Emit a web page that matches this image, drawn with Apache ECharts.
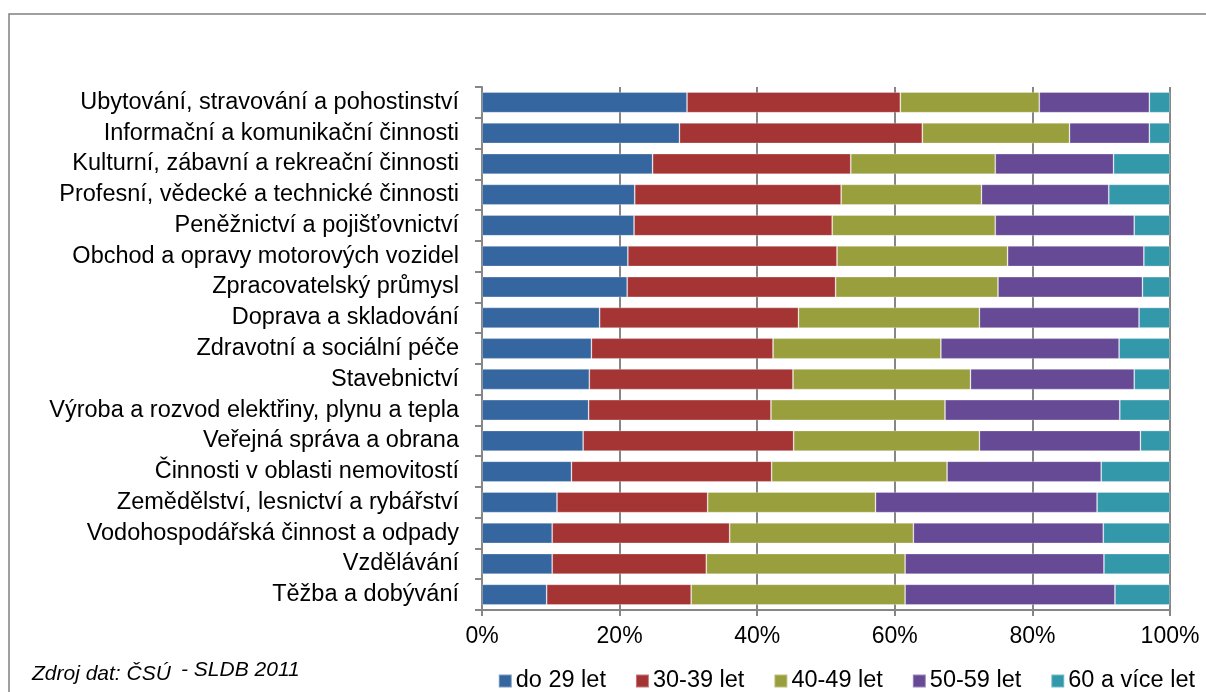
<!DOCTYPE html>
<html><head><meta charset="utf-8">
<script src="https://cdn.jsdelivr.net/npm/echarts@6/dist/echarts.min.js"></script>
<style>html,body{margin:0;padding:0;background:#fff}#c{width:1206px;height:692px}</style>
</head><body><div id="c"></div>
<script>
const categories = [
  "Ubytování, stravování a pohostinství",
  "Informační a komunikační činnosti",
  "Kulturní, zábavní a rekreační činnosti",
  "Profesní, vědecké a technické činnosti",
  "Peněžnictví a pojišťovnictví",
  "Obchod a opravy motorových vozidel",
  "Zpracovatelský průmysl",
  "Doprava a skladování",
  "Zdravotní a sociální péče",
  "Stavebnictví",
  "Výroba a rozvod elektřiny, plynu a tepla",
  "Veřejná správa a obrana",
  "Činnosti v oblasti nemovitostí",
  "Zemědělství, lesnictví a rybářství",
  "Vodohospodářská činnost a odpady",
  "Vzdělávání",
  "Těžba a dobývání"
];
const seriesNames = ["do 29 let", "30-39 let", "40-49 let", "50-59 let", "60 a více let"];
const do29   = [29.8, 28.7, 24.8, 22.2, 22.1, 21.2, 21.1, 17.1, 15.9, 15.6, 15.5, 14.7, 13.0, 10.9, 10.2, 10.2, 9.4];
const v30_39 = [31.0, 35.3, 28.8, 30.0, 28.8, 30.4, 30.3, 28.9, 26.4, 29.6, 26.5, 30.6, 29.1, 21.9, 25.8, 22.4, 21.0];
const v40_49 = [20.2, 21.4, 21.0, 20.4, 23.7, 24.8, 23.6, 26.3, 24.4, 25.8, 25.3, 27.0, 25.5, 24.4, 26.7, 28.9, 31.1];
const v50_59 = [16.0, 11.6, 17.2, 18.5, 20.2, 19.8, 21.0, 23.2, 25.9, 23.8, 25.4, 23.4, 22.4, 32.2, 27.6, 28.9, 30.5];
const v60    = [3.0, 3.0, 8.2, 8.9, 5.2, 3.8, 4.0, 4.5, 7.4, 5.2, 7.3, 4.3, 10.0, 10.6, 9.7, 9.6, 8.0];
const xTicks = [0, 20, 40, 60, 80, 100];

const colors = ["#3566a0", "#a53534", "#9a9f3d", "#664a96", "#3398aa"];
const values = [do29, v30_39, v40_49, v50_59, v60];
const FONT = "Liberation Sans, Arial, sans-serif";

const chart = echarts.init(document.getElementById('c'), null, {renderer: 'canvas'});
chart.setOption({
  animation: false,
  textStyle: {fontFamily: FONT},
  color: colors,
  graphic: [
    {type: 'rect', shape: {x: 9, y: 14, width: 1250, height: 750}, style: {fill: 'none', stroke: '#808080', lineWidth: 1.5}, silent: true},
    {type: 'text', left: 32, top: 664, style: {text: 'Zdroj dat: ČSÚ', font: 'italic 21px ' + FONT, fill: '#000'}},
    {type: 'text', left: 181, top: 660, style: {text: '- SLDB 2011', font: 'italic 21px ' + FONT, fill: '#000'}}
  ],
  legend: {
    data: seriesNames,
    right: 6, top: 664,
    itemWidth: 13, itemHeight: 13, itemGap: 29,
    icon: 'rect',
    textStyle: {fontSize: 23.5, color: '#000', fontFamily: FONT, padding: [0, 0, 0, -1]}
  },
  grid: {left: 482, right: 36, top: 87, bottom: 82, containLabel: false},
  xAxis: {
    type: 'value', min: xTicks[0], max: xTicks[xTicks.length - 1], interval: 20,
    axisLabel: {formatter: '{value}%', fontSize: 23, color: '#000', margin: 15},
    axisLine: {show: true, lineStyle: {color: '#868686', width: 2}},
    axisTick: {show: true, length: 6, lineStyle: {color: '#868686', width: 2}},
    splitLine: {show: true, lineStyle: {color: '#868686', width: 2}}
  },
  yAxis: {
    type: 'category', data: categories, inverse: true,
    axisLabel: {fontSize: 23.5, color: '#000', margin: 23, interval: 0},
    axisLine: {show: true, lineStyle: {color: '#868686', width: 2}},
    axisTick: {show: true, length: 7, interval: 0, lineStyle: {color: '#868686', width: 2}},
    splitLine: {show: false}
  },
  series: seriesNames.map((n, i) => ({
    name: n, type: 'bar', stack: 'total', data: values[i],
    barCategoryGap: '33%',
    itemStyle: {color: colors[i], borderColor: 'rgba(255,255,255,0.35)', borderWidth: 0.8}
  }))
});
</script></body></html>
